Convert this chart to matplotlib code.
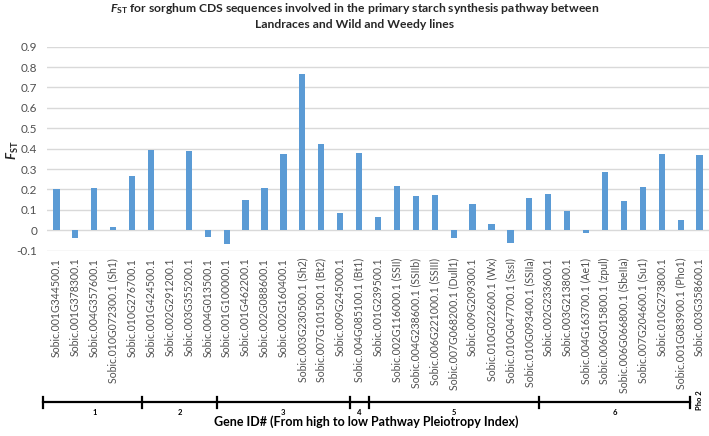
import matplotlib
matplotlib.use('Agg')
import matplotlib.pyplot as plt
import numpy as np
from matplotlib.transforms import blended_transform_factory

genes = [
    'Sobic.001G344500.1', 'Sobic.001G378300.1', 'Sobic.004G357600.1',
    'Sobic.010G072300.1 (Sh1)', 'Sobic.010G276700.1', 'Sobic.001G424500.1',
    'Sobic.002G291200.1', 'Sobic.003G355200.1', 'Sobic.004G013500.1',
    'Sobic.001G100000.1', 'Sobic.001G462200.1', 'Sobic.002G088600.1',
    'Sobic.002G160400.1', 'Sobic.003G230500.1 (Sh2)', 'Sobic.007G101500.1 (Bt2)',
    'Sobic.009G245000.1', 'Sobic.004G085100.1 (Bt1)', 'Sobic.001G239500.1',
    'Sobic.002G116000.1 (SSII)', 'Sobic.004G238600.1 (SSIIb)', 'Sobic.006G221000.1 (SSIII)',
    'Sobic.007G068200.1 (Dull1)', 'Sobic.009G209300.1', 'Sobic.010G022600.1 (Wx)',
    'Sobic.010G047700.1 (SssI)', 'Sobic.010G093400.1 (SSIIa)', 'Sobic.002G233600.1',
    'Sobic.003G213800.1', 'Sobic.004G163700.1 (Ae1)', 'Sobic.006G015800.1 (zpul)',
    'Sobic.006G066800.1 (SbeIIa)', 'Sobic.007G204600.1 (Su1)', 'Sobic.010G273800.1',
    'Sobic.001G083900.1 (Pho1)', 'Sobic.003G358600.1',
]
fst = [
    0.203, -0.036, 0.209, 0.015, 0.266, 0.394, 0.003, 0.387, -0.031,
    -0.067, 0.147, 0.206, 0.373, 0.766, 0.422, 0.087, 0.377, 0.065,
    0.216, 0.168, 0.175, -0.039, 0.127, 0.029, -0.062, 0.160, 0.176,
    0.093, -0.011, 0.288, 0.144, 0.214, 0.376, 0.049, 0.368,
]
group_names = ['1', '2', '3', '4', '5', '6']
group_sizes = [5, 4, 7, 1, 9, 8]
last_group = 'Pho 2'
yticks = [-0.1, 0, 0.1, 0.2, 0.3, 0.4, 0.5, 0.6, 0.7, 0.8, 0.9]

plt.rcParams['font.family'] = ['Lato', 'DejaVu Sans']
plt.rcParams['mathtext.fontset'] = 'custom'
plt.rcParams['mathtext.it'] = 'Lato:italic:bold'
plt.rcParams['mathtext.rm'] = 'Lato:bold'
plt.rcParams['mathtext.bf'] = 'Lato:bold'

W, H = 709, 436
fig = plt.figure(figsize=(W / 100, H / 100), dpi=100)
ax = fig.add_axes([47 / W, 1 - 250.7 / H, 662 / W, (250.7 - 46.7) / H])

x = np.arange(len(genes))
ax.bar(x, fst, width=0.33, color='#5B9BD5', zorder=3)
ax.set_xlim(-0.5, len(genes) - 0.5)
ax.set_ylim(-0.1, 0.9)
ax.set_yticks(yticks)
ax.set_yticklabels(['0' if v == 0 else f'{v:g}' for v in yticks], fontsize=8.5, color='#505050')
ax.yaxis.grid(True, color='#d9d9d9', lw=1, zorder=0)
for s in ax.spines.values():
    s.set_visible(False)
ax.tick_params(axis='both', length=0)
ax.tick_params(axis='y', pad=7)
ax.set_xticks(x)
ax.set_xticklabels(genes, rotation=90, fontsize=7.6, color='#505050', va='top')
ax.tick_params(axis='x', pad=5)

fig.text(13 / W, 1 - 150 / H, r'$\mathit{F}_{\mathrm{ST}}$', rotation=90,
         ha='center', va='center', fontsize=9.5, color='#262626')

fig.text(355 / W, 1 - 9 / H,
         r'$\mathit{F}_{\mathrm{ST}}$ for sorghum CDS sequences involved in the primary starch synthesis pathway between',
         ha='center', va='center', fontsize=8.7, fontweight='bold', color='#262626')
fig.text(355 / W, 1 - 25 / H, 'Landraces and Wild and Weedy lines',
         ha='center', va='center', fontsize=8.7, fontweight='bold', color='#262626')

# group bracket
tr = blended_transform_factory(ax.transData, fig.transFigure)
bounds = np.concatenate([[0], np.cumsum(group_sizes)]) - 0.5
yb = 1 - 402 / H
yt0, yt1 = 1 - 397 / H, 1 - 408 / H
ax.plot([bounds[0] - 0.23, bounds[-1]], [yb, yb], color='black', lw=1.6, transform=tr, clip_on=False)
for i, b in enumerate(bounds):
    bx = b - 0.23 if i == 0 else b
    ax.plot([bx, bx], [yt0, yt1], color='black', lw=1.6, transform=tr, clip_on=False)
for name, a, b in zip(group_names, bounds[:-1], bounds[1:]):
    ax.text((a + b) / 2, 1 - 412 / H, name, transform=tr, ha='center', va='center',
            fontsize=5.5, fontweight='bold')
ax.text(bounds[-1] + 0.5, 1 - 400 / H, last_group, transform=tr, ha='center', va='center',
        fontsize=5.5, fontweight='bold', rotation=90)

fig.text(366 / W, 1 - 422 / H, 'Gene ID# (From high to low Pathway Pleiotropy Index)',
         ha='center', va='center', fontsize=9, fontweight='bold')

fig.savefig('out.png', dpi=100)
